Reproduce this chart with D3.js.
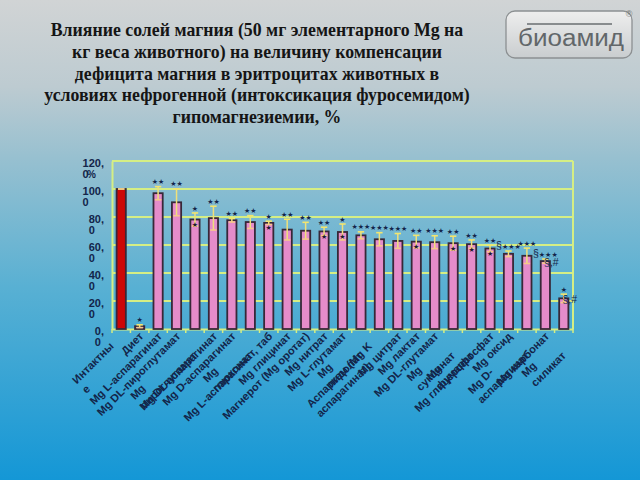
<!DOCTYPE html>
<html><head><meta charset="utf-8">
<script src="https://cdn.jsdelivr.net/npm/d3@7/dist/d3.min.js"></script>
<style>html,body{margin:0;padding:0;width:640px;height:480px;overflow:hidden}</style>
</head><body>
<svg id="c" width="640" height="480"></svg>
<script>
const titleLines = [
  "Влияние солей магния (50 мг элементарного Mg на",
  "кг веса животного) на величину компенсации",
  "дефицита магния в эритроцитах животных в",
  "условиях нефрогенной (интоксикация фуросемидом)",
  "гипомагнезиемии, %"
];
const categories = [
  "Интактны\nе", "Диет", "Mg L-аспарагинат", "Mg DL-пироглутамат", "Mg\nпироглутамат",
  "Mg DL-аспарагинат", "Mg D-аспарагинат", "Mg\nглюконат", "Mg L-аспарагинат, таб", "Mg глицинат",
  "Магнерот (Mg оротат)", "Mg нитрат", "Mg L-глутамат", "Mg\nпидолат", "Аспаркам (Mg K\nаспарагинат)",
  "Mg цитрат", "Mg лактат", "Mg DL-глутамат", "Mg\nсукцинат", "Mg\nфумарат",
  "Mg глицерофосфат", "Mg оксид", "Mg D-\nаспарагинат", "Mg карбонат", "Mg\nсиликат"
];
const values = [100, 2, 97, 90.5, 78.2, 79.2, 77.7, 76.4, 75.8, 71, 70.2, 69.7, 69.3, 66.9, 64.1,
  62.9, 62.4, 62, 61.3, 60.6, 57.5, 53.7, 52.3, 48.5, 21.9];
const errors = [0, 1, 4.7, 9.6, 4.7, 8.5, 1.3, 4.6, 1.2, 7.4, 6, 3, 5.7, 2.5, 4.7,
  5.3, 4.5, 4.6, 5, 3, 2.3, 2, 5.5, 1.5, 3];
const sigAbove = ["", "*", "**", "**", "*", "**", "**", "**", "*", "**", "**", "**", "*", "***", "***",
  "***", "**", "***", "**", "**", "**", "§***", "***", "§***", "*"];
const sigSide = ["", "", "", "", "", "", "", "", "", "", "", "", "", "", "",
  "", "", "", "", "", "", "", "", "§,#", "§,#"];
const innerMark = ["", "", "", "", "*", "", "", "", "*", "", "", "*", "*", "", "",
  "", "*", "", "*", "*", "*", "", "", "", ""];
const yTicks = [0, 20, 40, 60, 80, 100, 120];
const yUnit = "%";
const logoText = "биоамид";

const svg = d3.select("#c");
const W = 640, H = 480;
const defs = svg.append("defs");
const bg = defs.append("linearGradient").attr("id", "bg").attr("x1", 0).attr("y1", 0).attr("x2", 0).attr("y2", 1);
[[0, "#d1d4d5"], [0.18, "#bdcbd1"], [0.33, "#97c0d0"], [0.6, "#58b0d3"], [1, "#1497d6"]]
  .forEach(([o, c]) => bg.append("stop").attr("offset", o).attr("stop-color", c));
const lg = defs.append("linearGradient").attr("id", "lg").attr("x1", 0).attr("y1", 0).attr("x2", 0).attr("y2", 1);
[[0, "#eeeeee"], [1, "#c9cdcf"]].forEach(([o, c]) => lg.append("stop").attr("offset", o).attr("stop-color", c));

svg.append("rect").attr("width", W).attr("height", H).attr("fill", "url(#bg)");

// title
const tg = svg.append("g");
titleLines.forEach((t, i) => {
  tg.append("text").attr("x", 257).attr("y", 36 + i * 21.8)
    .attr("text-anchor", "middle")
    .attr("font-family", "Liberation Serif, Times New Roman, serif")
    .attr("font-weight", "bold").attr("font-size", 17.8).attr("fill", "#151515").text(t);
});

// logo
const lgG = svg.append("g");
lgG.append("rect").attr("x", 506).attr("y", 11).attr("width", 126).attr("height", 47).attr("rx", 9)
  .attr("fill", "url(#lg)").attr("stroke", "#8c9092").attr("stroke-width", 1.3);
lgG.append("line").attr("x1", 527).attr("x2", 612).attr("y1", 24).attr("y2", 24).attr("stroke", "#6a6e71").attr("stroke-width", 1.4);
lgG.append("text").attr("x", 518).attr("y", 46).attr("font-family", "Liberation Sans, Arial, sans-serif")
  .attr("font-size", 23).attr("fill", "#62676a").attr("textLength", 106).attr("lengthAdjust", "spacingAndGlyphs").text(logoText);
lgG.append("text").attr("x", 629).attr("y", 17).attr("font-family", "Liberation Sans, Arial, sans-serif")
  .attr("font-size", 9).attr("fill", "#777").attr("text-anchor", "middle").text("®");

// chart
const px0 = 112, px1 = 573, pyTop = 161, pyBot = 329;
const x = d3.scaleBand().domain(d3.range(categories.length)).range([px0, px1]).paddingInner(0.5).paddingOuter(0.25);
const y = d3.scaleLinear().domain([0, 120]).range([pyBot, pyTop]);
const gridCol = "#d5ee84";
const textCol = "#13254a";

const g = svg.append("g");
g.selectAll(".grid").data(yTicks.filter(d => d > 0)).join("line")
  .attr("x1", px0).attr("x2", px1).attr("y1", d => y(d)).attr("y2", d => y(d))
  .attr("stroke", gridCol).attr("stroke-width", 2);
g.append("line").attr("x1", px1).attr("x2", px1).attr("y1", pyTop).attr("y2", pyBot).attr("stroke", gridCol).attr("stroke-width", 2);

const ya = g.append("g").attr("transform", `translate(${px0},0)`)
  .call(d3.axisLeft(y).tickValues(yTicks).tickSize(0).tickFormat(""));
ya.select(".domain").attr("stroke", gridCol).attr("stroke-width", 2);
yTicks.forEach(v => {
  const s = v.toFixed(1).replace(".", ",");
  const parts = [s.slice(0, s.indexOf(",") + 1), s.slice(s.indexOf(",") + 1)];
  const t1 = g.append("text").attr("x", 104).attr("y", y(v) + 2).attr("dy", "0.35em")
    .attr("text-anchor", "end").attr("font-family", "Liberation Sans, Arial, sans-serif")
    .attr("font-weight", "bold").attr("font-size", 11).attr("fill", textCol).text(parts[0]);
  const w = t1.node().getComputedTextLength();
  g.append("text").attr("x", 104 - w).attr("y", y(v) + 13.5).attr("dy", "0.35em")
    .attr("font-family", "Liberation Sans, Arial, sans-serif")
    .attr("font-weight", "bold").attr("font-size", 11).attr("fill", textCol).text(parts[1]);
  if (v === 120) {
    g.append("text").attr("x", 104 - w + 4.5).attr("y", y(v) + 13.5).attr("dy", "0.35em")
      .attr("font-family", "Liberation Sans, Arial, sans-serif")
      .attr("font-weight", "bold").attr("font-size", 10).attr("fill", textCol).text(yUnit);
  }
});

const xa = g.append("g").attr("transform", `translate(0,${pyBot})`)
  .call(d3.axisBottom(x).tickSize(0).tickFormat(""));
xa.select(".domain").attr("stroke", gridCol).attr("stroke-width", 2);
const step = x.step();
const bounds = d3.range(categories.length + 1).map(i => px0 + i * step);
g.selectAll(".xt").data(bounds).join("line")
  .attr("x1", d => d).attr("x2", d => d).attr("y1", pyBot).attr("y2", pyBot + 4)
  .attr("stroke", gridCol).attr("stroke-width", 1.5);

const bw = x.bandwidth();
g.selectAll(".bar").data(values).join("rect")
  .attr("x", (d, i) => x(i)).attr("width", bw)
  .attr("y", d => y(d)).attr("height", d => y(0) - y(d))
  .attr("fill", (d, i) => i === 0 ? "#cc0707" : "#e58cca")
  .attr("stroke", "#382838").attr("stroke-width", 1.8);

const eb = g.selectAll(".eb").data(values).join("g");
eb.append("line")
  .attr("x1", (d, i) => x(i) + bw / 2).attr("x2", (d, i) => x(i) + bw / 2)
  .attr("y1", (d, i) => y(d + errors[i])).attr("y2", (d, i) => y(d - errors[i]))
  .attr("stroke", "#f0e07a").attr("stroke-width", 1.5);
[1, -1].forEach(sg => {
  eb.append("line")
    .attr("x1", (d, i) => x(i) + bw / 2 - 3.2).attr("x2", (d, i) => x(i) + bw / 2 + 3.2)
    .attr("y1", (d, i) => y(d + sg * errors[i])).attr("y2", (d, i) => y(d + sg * errors[i]))
    .attr("stroke", sg > 0 ? "#f3e56e" : "#f6c98a").attr("stroke-width", 1.6);
});

function annot(sel, str, cx, cy, anchor) {
  const t = sel.append("text").attr("x", cx).attr("y", cy).attr("dy", "0.35em")
    .attr("text-anchor", anchor || "middle").attr("fill", textCol)
    .attr("font-family", "DejaVu Sans, sans-serif");
  for (const ch of str) {
    if (ch === "*") t.append("tspan").attr("font-size", 7).text("★");
    else t.append("tspan").attr("font-size", 10.5).attr("font-family", "Liberation Sans, Arial, sans-serif").text(ch);
  }
  return t;
}
sigAbove.forEach((s, i) => {
  if (!s) return;
  annot(g, s, x(i) + bw / 2, y(values[i] + errors[i]) - 8);
});
sigSide.forEach((s, i) => {
  if (!s) return;
  annot(g, s, x(i) + bw / 2 + 6, y(values[i]) - 1);
});
innerMark.forEach((s, i) => {
  if (!s) return;
  g.append("text").attr("x", x(i) + bw / 2).attr("y", y(values[i]) + 5).attr("dy", "0.35em")
    .attr("text-anchor", "middle").attr("font-family", "DejaVu Sans, sans-serif")
    .attr("font-size", 7).attr("fill", "#1c1830").text("★");
});

categories.forEach((c, i) => {
  const lines = c.split("\n");
  const lgp = g.append("g").attr("transform", `translate(${x(i) + bw / 2 + 1},${pyBot + 6}) rotate(-45)`);
  const ts = lines.map(l => lgp.append("text").attr("dy", "0.35em")
    .attr("font-family", "Liberation Sans, Arial, sans-serif").attr("font-weight", "bold")
    .attr("font-size", 11).attr("fill", textCol).text(l));
  if (lines.length === 1) {
    ts[0].attr("text-anchor", "end").attr("x", 1).attr("y", 0);
  } else {
    const wmax = d3.max(ts, t => t.node().getComputedTextLength());
    ts.forEach((t, k) => t.attr("text-anchor", "start").attr("x", -14 - wmax).attr("y", -1 + k * 13.5));
  }
});
</script>
</body></html>
